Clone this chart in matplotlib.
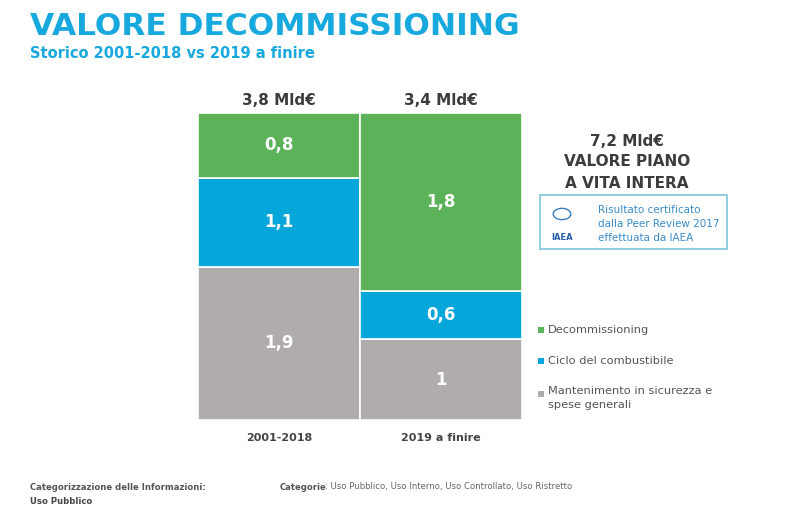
import matplotlib
matplotlib.use("Agg")
import matplotlib.pyplot as plt
from matplotlib.patches import Rectangle, Circle

categories = ["2001-2018", "2019 a finire"]
totals = ["3,8 Mld€", "3,4 Mld€"]
series_names = ["Mantenimento in sicurezza e\nspese generali", "Ciclo del combustibile", "Decommissioning"]
# segment heights as drawn in the picture (bottom to top)
mantenimento = [1.9, 1.0]
ciclo = [1.1, 0.6]
decommissioning = [0.8, 2.2]
# printed labels
mantenimento_lbl = ["1,9", "1"]
ciclo_lbl = ["1,1", "0,6"]
decommissioning_lbl = ["0,8", "1,8"]

colors = ["#B0ACAC", "#05A6DA", "#5BB259"]
title_col = "#17A8DE"
dark = "#3C3C3C"

plt.rcParams['font.family'] = ['DejaVu Sans']
fig = plt.figure(figsize=(8, 5.13), dpi=100)
W, H = 800, 513

def fx(x):
    return x / W
def fy(y):
    return 1 - y / H

ax = fig.add_axes([fx(198), fy(420), fx(522) - fx(198), fy(113) - fy(420)])
bottoms = [0, 0]
for vals, lbls, c in zip([mantenimento, ciclo, decommissioning],
                         [mantenimento_lbl, ciclo_lbl, decommissioning_lbl], colors):
    ax.bar(range(len(categories)), vals, width=1.0, bottom=bottoms, color=c,
           edgecolor="white", linewidth=1.2)
    for i, (v, l) in enumerate(zip(vals, lbls)):
        ax.text(i, bottoms[i] + v / 2, l, ha="center", va="center", color="white",
                fontsize=12, fontweight="bold")
    bottoms = [b + v for b, v in zip(bottoms, vals)]
ax.set_xlim(-0.5, 1.5)
ax.set_ylim(0, 3.8)
ax.axis("off")
for i, (cat, tot) in enumerate(zip(categories, totals)):
    ax.text(i, -0.22, cat, ha="center", va="center", fontsize=8, fontweight="bold", color="#444444")
    ax.text(i, 3.8 + 0.16, tot, ha="center", va="center", fontsize=11, fontweight="bold", color=dark)

# Titles
fig.text(fx(30), fy(27), "VALORE DECOMMISSIONING", fontsize=22.5, fontweight="bold",
         color=title_col, va="center", ha="left")
fig.text(fx(30), fy(53), "Storico 2001-2018 vs 2019 a finire", fontsize=10.5, fontweight="bold",
         color=title_col, va="center", ha="left")

# Right annotations
for txt, y in zip(["7,2 Mld€", "VALORE PIANO", "A VITA INTERA"], [141, 162, 184]):
    fig.text(fx(627), fy(y), txt, fontsize=11, fontweight="bold", color=dark, ha="center", va="center")

box = Rectangle((fx(540), fy(249)), fx(727) - fx(540), fy(195) - fy(249), transform=fig.transFigure,
                fill=False, edgecolor="#7CC6DE", linewidth=1.2)
fig.add_artist(box)
logo = Circle((fx(562), fy(214)), 0.011, transform=fig.transFigure, fill=False,
              edgecolor="#3A7FC0", linewidth=1.0)
fig.add_artist(logo)
fig.text(fx(562), fy(238), "IAEA", fontsize=6, fontweight="bold", color="#2A5EA8", ha="center", va="center")
for k, line in enumerate(["Risultato certificato", "dalla Peer Review 2017", "effettuata da IAEA"]):
    fig.text(fx(598), fy(210 + 14 * k), line, fontsize=7.5, color="#3A8CC8", ha="left", va="center")

# Legend
leg_y = [330, 361, 394]
for name, c, y in zip(series_names[::-1], colors[::-1], leg_y):
    sq = Rectangle((fx(538), fy(y + 3)), fx(6), fy(0) - fy(6), transform=fig.transFigure,
                   color=c, linewidth=0)
    fig.add_artist(sq)
    if "\n" in name:
        fig.text(fx(548), fy(y - 8), name, fontsize=8.2, color="#555555", ha="left", va="top",
                 linespacing=1.45)
    else:
        fig.text(fx(548), fy(y), name, fontsize=8.2, color="#555555", ha="left", va="center")

# Footer
fig.text(fx(30), fy(487), "Categorizzazione delle Informazioni:", fontsize=6.1, fontweight="bold",
         color="#555555", ha="left", va="center")
fig.text(fx(30), fy(501), "Uso Pubblico", fontsize=6.1, fontweight="bold", color="#444444", ha="left", va="center")
t = fig.text(fx(280), fy(487), "Categorie", fontsize=6.1, fontweight="bold", color="#555555", ha="left", va="center")
r = fig.canvas.get_renderer()
bb = t.get_window_extent(renderer=r)
fig.text(bb.x1 / W - 0.002, fy(487), ": Uso Pubblico, Uso Interno, Uso Controllato, Uso Ristretto", fontsize=6.1,
         color="#666666", ha="left", va="center")

fig.savefig("out.png", dpi=100, facecolor="white")
